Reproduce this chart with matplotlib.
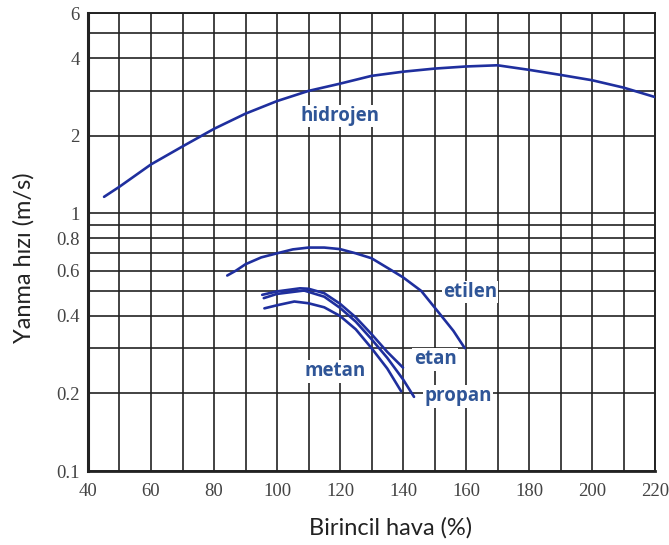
import matplotlib
matplotlib.use("Agg")
import matplotlib.pyplot as plt
from matplotlib.ticker import FixedLocator, NullLocator, NullFormatter

# Data
hidrojen_x = [45.1, 50, 60, 70, 80, 90, 100, 110, 120, 130, 140, 150, 160, 170, 180, 190, 200, 210, 220]
hidrojen_y = [1.16, 1.27, 1.55, 1.82, 2.13, 2.44, 2.73, 2.99, 3.19, 3.42, 3.55, 3.65, 3.72, 3.76, 3.61, 3.45, 3.29, 3.08, 2.83]

etilen_x = [84.2, 87, 90, 95, 100, 105, 110, 115, 120, 125, 130, 136.5, 140, 145.8, 152.2, 156, 159.6]
etilen_y = [0.574, 0.60, 0.635, 0.675, 0.70, 0.725, 0.737, 0.737, 0.727, 0.70, 0.67, 0.60, 0.565, 0.50, 0.40, 0.35, 0.30]

metan_x = [96, 100, 105.5, 110, 115, 120, 125, 130, 135, 139.4]
metan_y = [0.428, 0.44, 0.455, 0.448, 0.432, 0.40, 0.355, 0.30, 0.25, 0.204]

etan_x = [95.3, 100, 107.3, 110, 115, 120, 125, 130, 135, 140]
etan_y = [0.483, 0.498, 0.512, 0.51, 0.49, 0.446, 0.395, 0.34, 0.29, 0.252]

propan_x = [95.8, 100, 108.6, 115, 120, 125, 130, 135, 140, 143.5]
propan_y = [0.469, 0.487, 0.502, 0.475, 0.43, 0.38, 0.325, 0.275, 0.227, 0.194]

x_ticks = [40, 60, 80, 100, 120, 140, 160, 180, 200, 220]
x_grid = list(range(40, 221, 10))
y_ticks = [0.1, 0.2, 0.4, 0.6, 0.8, 1, 2, 4, 6]
y_tick_labels = ["0.1", "0.2", "0.4", "0.6", "0.8", "1", "2", "4", "6"]
y_grid = [0.1, 0.2, 0.3, 0.4, 0.5, 0.6, 0.7, 0.8, 0.9, 1, 2, 3, 4, 5, 6]

gas_labels = ["hidrojen", "etilen", "etan", "metan", "propan"]
label_x = [120, 161.3, 150.2, 118.4, 157.5]
label_y = [2.39, 0.496, 0.271, 0.244, 0.195]

line_color = "#1f2f9e"
label_color = "#2f5597"

fig = plt.figure(figsize=(6.69, 5.45), dpi=100)
ax = fig.add_axes([88 / 669, 1 - 471 / 545, (655 - 88) / 669, (471 - 13) / 545])

ax.set_yscale("log")
ax.set_xlim(40, 220)
ax.set_ylim(0.1, 6)

# grid lines
for gx in x_grid:
    ax.axvline(gx, color="#222222", lw=1.2, zorder=1)
for gy in y_grid:
    ax.axhline(gy, color="#222222", lw=1.2, zorder=1)

ax.xaxis.set_major_locator(FixedLocator(x_ticks))
ax.yaxis.set_major_locator(FixedLocator(y_ticks))
ax.yaxis.set_minor_locator(NullLocator())
ax.yaxis.set_minor_formatter(NullFormatter())
ax.set_yticklabels(y_tick_labels)
ax.tick_params(axis="both", length=0, labelsize=13.5, labelcolor="#444444")
ax.tick_params(axis="x", pad=9)
ax.tick_params(axis="y", pad=6)
for lab in ax.get_xticklabels() + ax.get_yticklabels():
    lab.set_fontfamily("Liberation Serif")

for s in ax.spines.values():
    s.set_color("#222222")
    s.set_linewidth(1.4)
ax.spines["left"].set_linewidth(2.2)
ax.spines["bottom"].set_linewidth(2.0)

for xs, ys in [(hidrojen_x, hidrojen_y), (etilen_x, etilen_y), (metan_x, metan_y),
               (etan_x, etan_y), (propan_x, propan_y)]:
    ax.plot(xs, ys, color=line_color, lw=1.9, zorder=3, solid_capstyle="round")

for t, lx, ly in zip(gas_labels, label_x, label_y):
    ax.text(lx, ly, t, color=label_color, fontsize=13.5, fontweight="bold",
            family="Open Sans", ha="center", va="center", zorder=4,
            bbox=dict(facecolor="white", edgecolor="none", pad=1.0))

ax.set_xlabel("Birincil hava (%)", fontsize=17, family="Lato", color="#222222")
ax.set_ylabel("Yanma hızı (m/s)", fontsize=17, family="Lato", color="#222222")
ax.xaxis.set_label_coords(0.534, -0.100)
ax.yaxis.set_label_coords(-0.094, 0.465)

fig.savefig("out.png", dpi=100)
